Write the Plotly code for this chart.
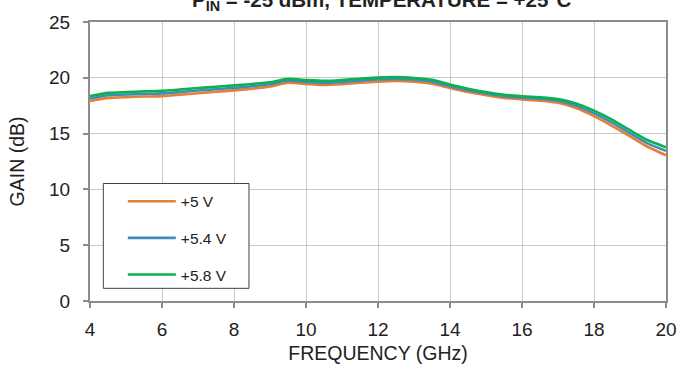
import plotly.graph_objects as go

# ---- data ----
freq_ghz = [4.0, 4.5, 5.0, 5.5, 6.0, 6.5, 7.0, 7.5, 8.0, 8.5, 9.0, 9.5, 10.0, 10.5,
            11.0, 11.5, 12.0, 12.5, 13.0, 13.5, 14.0, 14.5, 15.0, 15.5, 16.0, 16.5,
            17.0, 17.5, 18.0, 18.5, 19.0, 19.5, 20.0]

gain_5v = [17.92, 18.20, 18.27, 18.32, 18.36, 18.48, 18.62, 18.75, 18.87, 19.02,
           19.22, 19.55, 19.45, 19.35, 19.42, 19.55, 19.66, 19.72, 19.65, 19.47,
           19.08, 18.72, 18.45, 18.20, 18.06, 17.95, 17.76, 17.29, 16.57, 15.70,
           14.75, 13.80, 13.06]

gain_5p4v = [18.14, 18.44, 18.50, 18.56, 18.60, 18.72, 18.86, 18.98, 19.10, 19.24,
             19.42, 19.73, 19.63, 19.54, 19.61, 19.74, 19.85, 19.90, 19.82, 19.65,
             19.25, 18.88, 18.59, 18.35, 18.21, 18.11, 17.94, 17.50, 16.82, 15.98,
             15.03, 14.10, 13.45]

gain_5p8v = [18.36, 18.65, 18.72, 18.78, 18.83, 18.95, 19.08, 19.20, 19.32, 19.45,
             19.60, 19.90, 19.80, 19.72, 19.80, 19.92, 20.02, 20.06, 19.98, 19.82,
             19.40, 19.02, 18.72, 18.48, 18.35, 18.25, 18.10, 17.69, 17.06, 16.25,
             15.30, 14.40, 13.77]

series_names = ["+5 V", "+5.4 V", "+5.8 V"]
x_ticks = [4, 6, 8, 10, 12, 14, 16, 18, 20]
y_ticks = [0, 5, 10, 15, 20, 25]

# ---- styling ----
colors = ["#E97E35", "#3E8EB5", "#0BB04F"]
FONT = "Arial, 'Liberation Sans', sans-serif"
AXIS_GREY = "#8C8C8C"
GRID_GREY = "#C8C8C8"

fig = go.Figure()
for name, vals, col in zip(series_names, [gain_5v, gain_5p4v, gain_5p8v], colors):
    fig.add_trace(go.Scatter(
        x=freq_ghz, y=vals, name=name, mode="lines", legendgroup=name,
        line=dict(color=col, width=2.6, shape="spline", smoothing=0.5),
    ))

fig.update_layout(
    width=689, height=373,
    margin=dict(l=90, r=23, t=16, b=66),
    paper_bgcolor="white", plot_bgcolor="white",
    font=dict(family=FONT, size=19, color="#222222"),
    title=dict(
        text="<b>P<sub>IN</sub> = -25 dBm, TEMPERATURE = +25°C</b>",
        x=0.554, xanchor="center", xref="container",
        y=1.0, yanchor="middle", yref="container",
        font=dict(size=20.5, color="#222222"),
    ),
    showlegend=True,
    legend=dict(
        x=0.057, y=0.417, xanchor="left", yanchor="top",
        bgcolor="rgba(0,0,0,0)", borderwidth=0,
        font=dict(size=15.5, color="#222222"),
        itemwidth=48, tracegroupgap=13.5,
    ),
    shapes=[dict(
        type="rect", xref="paper", yref="paper",
        x0=0.0231, x1=0.276, y0=0.0454, y1=0.4212,
        line=dict(color="#404040", width=1), fillcolor="white", layer="above",
    )],
)

fig.update_xaxes(
    range=[4, 20], tickvals=x_ticks, ticktext=[str(v) for v in x_ticks],
    showgrid=True, gridcolor=GRID_GREY, gridwidth=1,
    showline=True, linecolor=AXIS_GREY, linewidth=2, mirror=True,
    ticks="outside", ticklen=5, tickwidth=1.5, tickcolor=AXIS_GREY,
    ticklabelstandoff=5, zeroline=False,
    title=dict(text="FREQUENCY (GHz)", standoff=8, font=dict(size=19.5)),
)
fig.update_yaxes(
    range=[0, 25], tickvals=y_ticks, ticktext=[str(v) for v in y_ticks],
    showgrid=True, gridcolor=GRID_GREY, gridwidth=1,
    showline=True, linecolor=AXIS_GREY, linewidth=2, mirror=True,
    ticks="outside", ticklen=5, tickwidth=1.5, tickcolor=AXIS_GREY,
    ticklabelstandoff=9, zeroline=False,
    title=dict(text="GAIN (dB)", standoff=19, font=dict(size=19.5)),
)

fig.write_html("out.html")
